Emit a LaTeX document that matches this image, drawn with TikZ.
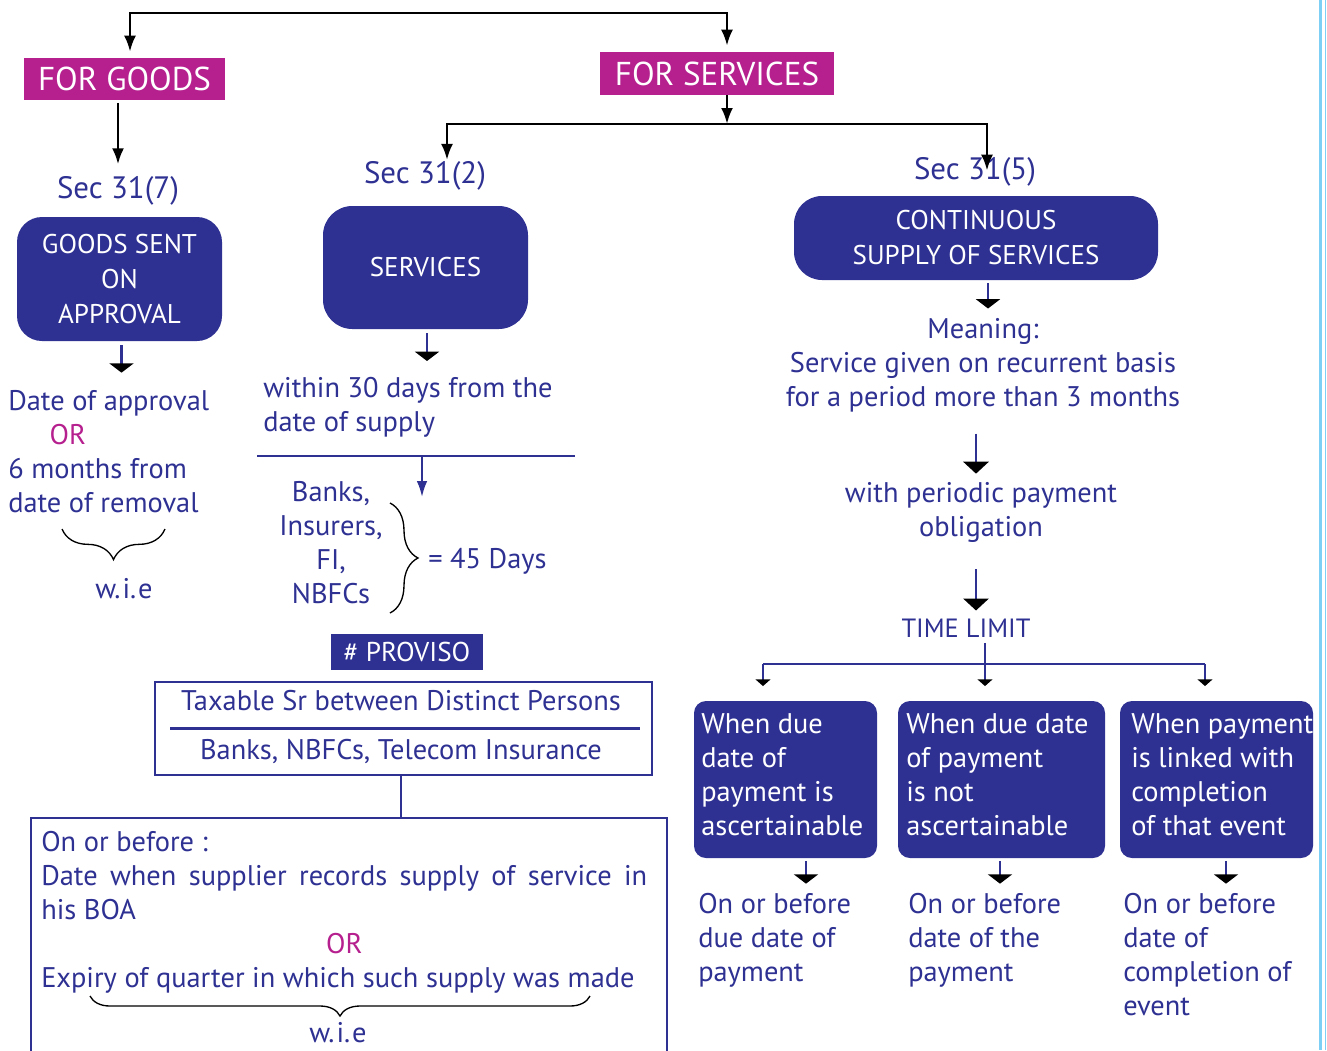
\documentclass[tikz,border=0pt]{standalone}
\usepackage{fontspec}
\setmainfont{PT Sans}
\usetikzlibrary{arrows.meta,decorations.pathreplacing,calc}
\definecolor{navy}{HTML}{2E3192}
\definecolor{mag}{HTML}{B51F8E}
\definecolor{sky}{HTML}{7DCFF5}
\newcommand\txtsize{\fontsize{21.3}{25.5}\selectfont}
\newcommand\boxsize{\fontsize{20.3}{26.25}\selectfont}
\newcommand\capsize{\fontsize{19.8}{25.5}\selectfont}
\newcommand\wie{w.\kern1.5pt i.\kern1.5pt e}

\begin{document}
\begin{tikzpicture}[x=0.75pt,y=-0.75pt,
  tag/.style={fill=mag,text=white,inner sep=0pt,font=\fontsize{24.8}{30}\selectfont},
  rbox/.style={fill=navy,text=white,inner sep=0pt,align=center,font=\boxsize},
  cbox/.style={fill=navy,rounded corners=9pt,inner sep=0pt,minimum height=117.75pt},
  wtxt/.style={text=white,inner sep=0pt,align=left,font=\txtsize},
  txt/.style={text=navy,inner sep=0pt,font=\txtsize},
  sec/.style={text=navy,inner sep=0pt,font=\fontsize{23.2}{26}\selectfont},
  feed/.style={draw=black,line width=2pt,-{Latex[width=9pt,length=12pt]}},
  drop/.style={draw=navy,line width=1.6pt,-{Triangle[width=18pt,length=7pt,color=black]}},
  bigdrop/.style={draw=navy,line width=1.8pt,-{Triangle[width=19pt,length=9pt,color=black]}},
  twig/.style={draw=navy,line width=1.6pt,-{Triangle[width=11pt,length=5pt,color=black]}},
  rule/.style={draw=navy,line width=1.6pt},
  curly/.style={draw=black,line width=1pt,decorate},
]
\useasboundingbox (0,0) rectangle (1327,1050);

% page edge rules
\fill[sky] (1318.5,0) rectangle (1322,1050);
\draw[sky,line width=0.75pt] (1325.5,0) -- (1325.5,1050);

% ---------- top level ----------
\node[tag,minimum width=150.75pt,minimum height=31.5pt] (goods) at (124.5,79) {FOR GOODS};
\node[tag,minimum width=175.5pt,minimum height=32.25pt] (serv) at (717,73.5) {FOR SERVICES};
\coordinate (tl) at (130,13);
\coordinate (tr) at (727,13);
\draw[feed,shorten >=4.5pt] (tr) -- (tl) -- (tl |- goods.north);
\draw[feed,shorten >=4.5pt] (tl) -- (tr) -- (tr |- serv.north);

% ---------- goods branch ----------
\node[sec] (sec7) at (118,191) {Sec 31(7)};
\draw[feed,shorten <=2pt,shorten >=9pt] (goods.south -| sec7.north) -- (sec7.north);
\node[rbox,rounded corners=18.75pt,minimum width=153.75pt,minimum height=93pt] (gsa) at (119.5,279) {GOODS SENT\\ON\\APPROVAL};
\node[txt,anchor=north west,align=left] (appr) at (8,390) {Date of approval\\\hspace*{31pt}\textcolor{mag}{OR}\\6 months from\\date of removal};
\coordinate (gsaout) at ($(gsa.south)+(2,0)$);
\draw[drop,shorten <=3pt,shorten >=13pt] (gsaout) -- (gsaout |- appr.north);
\draw[curly,decoration={brace,mirror,amplitude=23pt}] (62,529) -- (165,529);
\node[txt] (wie1) at (124,589) {\wie};

% ---------- services split ----------
\coordinate (bar) at (727,124);
\coordinate (bl) at (447,124);
\coordinate (br) at (987,124);
\draw[feed] (serv.south -| bar) -- (bar);
\node[sec] (sec2) at (425,176) {Sec 31(2)};
\node[sec] (sec5) at (975,172) {Sec 31(5)};
\draw[feed,shorten >=1pt] (br) -- (bl) -- (bl |- sec2.north);
\draw[feed,shorten >=-10pt] (bl) -- (br) -- (br |- sec5.north);

% ---------- Sec 31(2) ----------
\node[rbox,rounded corners=22pt,minimum width=153.75pt,minimum height=92.25pt] (svc) at (425.5,267.5) {SERVICES};
\node[txt,anchor=north west,align=left] (within) at (263,377) {within 30 days from the\\date of supply};
\coordinate (svcout) at ($(svc.south)+(1.5,0)$);
\draw[drop,shorten <=3pt,shorten >=12pt] (svcout) -- (svcout |- within.north);
\coordinate (hl) at (257,456);
\coordinate (hr) at (575,456);
\draw[rule,line width=2pt] (hl) -- (hr);
\coordinate (split) at (422,456);
\coordinate (splitend) at (422,497);
\draw[draw=navy,line width=1.6pt,-{Latex[width=8pt,length=12pt]},navy] (split) -- (splitend);
\node[txt,align=center] (banks) at (331,542.5) {Banks,\\Insurers,\\FI,\\NBFCs};
\coordinate (bt) at (390,503);
\coordinate (bb) at (390,613);
\draw[curly,decoration={brace,amplitude=21pt}] (bt) -- (bb);
\node[txt,anchor=west] (days) at (428,561) {= 45 Days};

\node[fill=navy,text=white,inner sep=0pt,minimum width=114pt,minimum height=27pt,font=\fontsize{20.4}{25}\selectfont] (prov) at (407,652) {\# PROVISO};
\node[draw=navy,line width=1.5pt,minimum width=372.75pt,minimum height=69.75pt] (tax) at (403.5,728.5) {};
\node[txt] (tax1) at (401,701) {Taxable Sr between Distinct Persons};
\node[txt] (tax2) at (401,751) {Banks, NBFCs, Telecom Insurance};
\draw[rule] ($(tax.west)+(16,0)$) -- ($(tax.east)+(-13,0)$);

\node[draw=navy,line width=1.6pt,anchor=north,minimum width=477pt,minimum height=186pt] (big) at (349,817) {};
\draw[rule] (tax.south -| tax1.south) -- (tax1.south |- big.north);
\node[txt,anchor=north west,align=left] (ruletxt) at (41,831) {On or before :\\
  \makebox[454.5pt][s]{Date when supplier records supply of service in}\\
  his BOA\\
  \makebox[454.5pt][c]{\textcolor{mag}{OR}}\\
  Expiry of quarter in which such supply was made};
\draw[curly,decoration={brace,mirror,amplitude=15pt}] (90,996) -- (590,996);
\node[txt] (wie2) at (338,1033) {\wie};

% ---------- Sec 31(5) ----------
\node[rbox,rounded corners=21pt,minimum width=273pt,minimum height=63pt] (css) at (976,238) {CONTINUOUS\\SUPPLY OF SERVICES};
\node[txt,align=center] (mean) at (983,365) {Meaning:\\Service given on recurrent basis\\for a period more than 3 months};
\coordinate (cssout) at ($(css.south)+(12,0)$);
\draw[drop,shorten <=2pt,shorten >=7pt] (cssout) -- (cssout |- mean.north);
\node[txt,align=center] (period) at (981,512) {with periodic payment\\obligation};
\draw[bigdrop,shorten <=16pt,shorten >=6pt] (mean.south -| 976,0) -- (period.north -| 976,0);
\node[txt,font=\capsize] (limit) at (966,628) {TIME LIMIT};
\draw[bigdrop,shorten <=20pt,shorten >=6pt] (period.south -| 976,0) -- (limit.north -| 976,0);

\node[cbox,minimum width=137.25pt] (b1) at (785.5,779.5) {};
\node[cbox,minimum width=155.25pt] (b2) at (1001.5,779.5) {};
\node[cbox,minimum width=144.75pt] (b3) at (1216.5,779.5) {};
\node[wtxt,anchor=north west] (b1t) at (701,713) {When due\\date of\\payment is\\ascertainable};
\node[wtxt,anchor=north west] (b2t) at (906,713) {When due date\\of payment\\is not\\ascertainable};
\node[wtxt,anchor=north west] (b3t) at (1131,713) {When payment\\is linked with\\completion\\of that event};

\coordinate (fork) at (985,664);
\coordinate (forkl) at (763,664);
\coordinate (forkr) at (1205,664);
\draw[rule,shorten <=4pt] (limit.south -| fork) -- (fork);
\draw[rule] (forkl) -- (forkr);
\draw[twig,shorten >=11pt] (forkl) -- (forkl |- b1.north);
\draw[twig,shorten >=11pt] (fork) -- (fork |- b2.north);
\draw[twig,shorten >=11pt] (forkr) -- (forkr |- b3.north);

\node[txt,anchor=north west,align=left] (o1) at (698,893) {On or before\\due date of\\payment};
\node[txt,anchor=north west,align=left] (o2) at (908,893) {On or before\\date of the\\payment};
\node[txt,anchor=north west,align=left] (o3) at (1123,893) {On or before\\date of\\completion of\\event};
\draw[drop,shorten <=2pt,shorten >=7pt] (b1.south -| 806,0) -- (o1.north -| 806,0);
\draw[drop,shorten <=2pt,shorten >=7pt] (b2.south -| 1000,0) -- (o2.north -| 1000,0);
\draw[drop,shorten <=2pt,shorten >=7pt] (b3.south -| 1226,0) -- (o3.north -| 1226,0);
\end{tikzpicture}
\end{document}
